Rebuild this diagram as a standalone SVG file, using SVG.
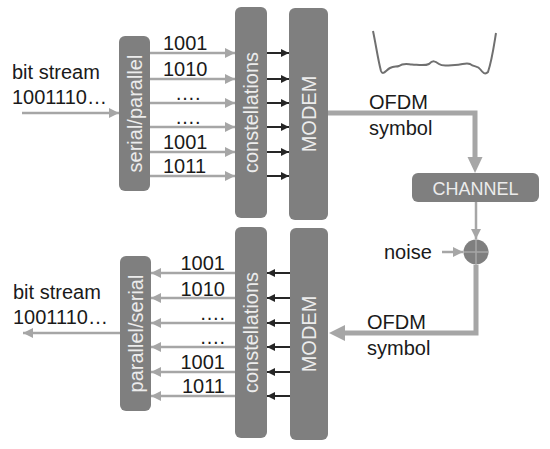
<svg xmlns="http://www.w3.org/2000/svg" width="550" height="449" viewBox="0 0 550 449">
<defs>
<style>
.box{fill:#7f7f7f;}
.bt{fill:#ececec;font-family:"Liberation Sans",Arial,sans-serif;font-size:20px;}
.t{fill:#1a1a1a;font-family:"Liberation Sans",Arial,sans-serif;font-size:20px;}
.g{stroke:#a6a6a6;stroke-width:2.5;fill:none;}
.k{stroke:#262626;stroke-width:2;fill:none;}
.big{stroke:#a6a6a6;stroke-width:5;fill:none;}
</style>
<marker id="ga" viewBox="0 0 10 10" refX="10" refY="5" markerWidth="4" markerHeight="4" orient="auto" markerUnits="strokeWidth"><path d="M0,0 L10,5 L0,10 z" fill="#a6a6a6"/></marker>
<marker id="ka" viewBox="0 0 10 10" refX="10" refY="5" markerWidth="4" markerHeight="4" orient="auto" markerUnits="strokeWidth"><path d="M0,0 L10,5 L0,10 z" fill="#262626"/></marker>
</defs>
<rect width="550" height="449" fill="#ffffff"/>

<g id="connectors">
<line class="g" x1="22" y1="113" x2="119" y2="113" marker-end="url(#ga)"/>
<line class="g" x1="150" y1="53" x2="235" y2="53" marker-end="url(#ga)"/>
<line class="g" x1="150" y1="79" x2="235" y2="79" marker-end="url(#ga)"/>
<line class="g" x1="150" y1="103" x2="235" y2="103" marker-end="url(#ga)"/>
<line class="g" x1="150" y1="127" x2="235" y2="127" marker-end="url(#ga)"/>
<line class="g" x1="150" y1="152" x2="235" y2="152" marker-end="url(#ga)"/>
<line class="g" x1="150" y1="176" x2="235" y2="176" marker-end="url(#ga)"/>
<line class="k" x1="267" y1="53" x2="289" y2="53" marker-end="url(#ka)"/>
<line class="k" x1="267" y1="79" x2="289" y2="79" marker-end="url(#ka)"/>
<line class="k" x1="267" y1="103" x2="289" y2="103" marker-end="url(#ka)"/>
<line class="k" x1="267" y1="127" x2="289" y2="127" marker-end="url(#ka)"/>
<line class="k" x1="267" y1="152" x2="289" y2="152" marker-end="url(#ka)"/>
<line class="k" x1="267" y1="176" x2="289" y2="176" marker-end="url(#ka)"/>
<path class="big" d="M328,113 H475 V158"/>
<path d="M467.5,157 L482.5,157 L475,173 z" fill="#a6a6a6"/>
<line class="g" x1="476" y1="202" x2="476" y2="239" marker-end="url(#ga)"/>
<line class="g" x1="442" y1="252" x2="463" y2="252" marker-end="url(#ga)"/>
<path class="big" d="M476,265 V333 H344"/>
<path d="M345,325 L345,341 L329,333 z" fill="#a6a6a6"/>
<line class="k" x1="290" y1="273" x2="267" y2="273" marker-end="url(#ka)"/>
<line class="k" x1="290" y1="298" x2="267" y2="298" marker-end="url(#ka)"/>
<line class="k" x1="290" y1="323" x2="267" y2="323" marker-end="url(#ka)"/>
<line class="k" x1="290" y1="347" x2="267" y2="347" marker-end="url(#ka)"/>
<line class="k" x1="290" y1="372" x2="267" y2="372" marker-end="url(#ka)"/>
<line class="k" x1="290" y1="396" x2="267" y2="396" marker-end="url(#ka)"/>
<line class="g" x1="235" y1="273" x2="151" y2="273" marker-end="url(#ga)"/>
<line class="g" x1="235" y1="298" x2="151" y2="298" marker-end="url(#ga)"/>
<line class="g" x1="235" y1="323" x2="151" y2="323" marker-end="url(#ga)"/>
<line class="g" x1="235" y1="347" x2="151" y2="347" marker-end="url(#ga)"/>
<line class="g" x1="235" y1="372" x2="151" y2="372" marker-end="url(#ga)"/>
<line class="g" x1="235" y1="396" x2="151" y2="396" marker-end="url(#ga)"/>
<line class="g" x1="120" y1="333" x2="23" y2="333" marker-end="url(#ga)"/>
</g>

<g id="labels-top">
<text class="t" x="12" y="79">bit stream</text>
<text class="t" x="12" y="104">1001110…</text>
<text class="t" x="163" y="50">1001</text>
<text class="t" x="163" y="76">1010</text>
<text class="t" x="175" y="100">….</text>
<text class="t" x="175" y="124">….</text>
<text class="t" x="163" y="149">1001</text>
<text class="t" x="163" y="173">1011</text>
<text class="t" x="369" y="109">OFDM</text>
<text class="t" x="369" y="135">symbol</text>
</g>
<g id="labels-bottom">
<text class="t" x="13" y="299">bit stream</text>
<text class="t" x="13" y="324">1001110…</text>
<text class="t" x="225" y="270" text-anchor="end">1001</text>
<text class="t" x="225" y="296" text-anchor="end">1010</text>
<text class="t" x="225" y="320" text-anchor="end">….</text>
<text class="t" x="225" y="344" text-anchor="end">….</text>
<text class="t" x="225" y="369" text-anchor="end">1001</text>
<text class="t" x="225" y="393" text-anchor="end">1011</text>
<text class="t" x="367" y="329">OFDM</text>
<text class="t" x="367" y="355">symbol</text>
<text class="t" x="384" y="259">noise</text>
</g>

<g id="serial-parallel">
<rect class="box" x="119" y="36" width="31" height="155" rx="6"/>
<text class="bt" transform="translate(141.5,113.5) rotate(-90)" text-anchor="middle">serial/parallel</text>
</g>
<g id="constellations-tx">
<rect class="box" x="235" y="7" width="32" height="211" rx="6"/>
<text class="bt" transform="translate(258,112.5) rotate(-90)" text-anchor="middle">constellations</text>
</g>
<g id="modem-tx">
<rect class="box" x="289" y="8" width="39" height="212" rx="6"/>
<text class="bt" transform="translate(315.5,114) rotate(-90)" text-anchor="middle">MODEM</text>
</g>
<g id="spectrum">
<path d="M373,31 C376,45 378,60 381,71 C383,76 386,70 390,68 C394,66 396,67 399,66 C403,63 406,64 412,64.5 C420,65 425,66 429,64 C433,60 435,61 439,64 C443,67 447,65 455,65 C462,65 466,62 470,64 C474,67 478,66 480,69 C483,73 485,75 488,72 C492,60 494,45 496,33" fill="none" stroke="#707070" stroke-width="2"/>
</g>
<g id="channel">
<rect class="box" x="412" y="173" width="127" height="29" rx="6"/>
<text class="bt" x="475.5" y="195" text-anchor="middle" style="font-size:18px">CHANNEL</text>
</g>
<g id="adder">
<circle cx="476" cy="252" r="12.5" fill="#7f7f7f"/>
<line x1="463.5" y1="252" x2="488.5" y2="252" stroke="#a6a6a6" stroke-width="1.5"/>
<line x1="476" y1="239.5" x2="476" y2="264.5" stroke="#a6a6a6" stroke-width="1.5"/>
</g>
<g id="parallel-serial">
<rect class="box" x="120" y="256" width="31" height="155" rx="6"/>
<text class="bt" transform="translate(142.5,333.5) rotate(-90)" text-anchor="middle">parallel/serial</text>
</g>
<g id="constellations-rx">
<rect class="box" x="235" y="227" width="32" height="211" rx="6"/>
<text class="bt" transform="translate(258,332.5) rotate(-90)" text-anchor="middle">constellations</text>
</g>
<g id="modem-rx">
<rect class="box" x="290" y="228" width="38" height="212" rx="6"/>
<text class="bt" transform="translate(316,334) rotate(-90)" text-anchor="middle">MODEM</text>
</g>
</svg>
